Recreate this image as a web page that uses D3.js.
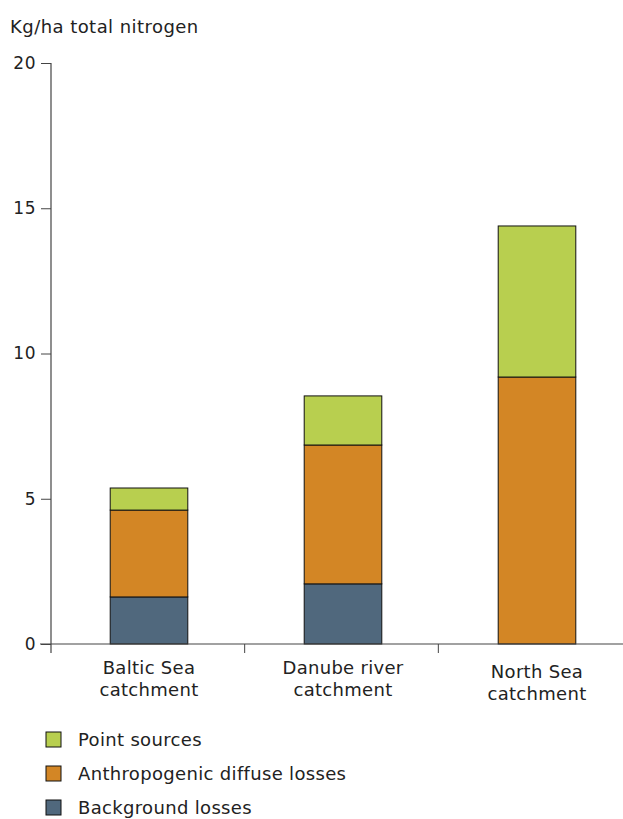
<!DOCTYPE html>
<html><head><meta charset="utf-8">
<script src="https://cdn.jsdelivr.net/npm/d3@7"></script>
<style>body{margin:0;background:#fff;} text{font-family:"DejaVu Sans",Verdana,sans-serif;fill:#222;}</style>
</head><body>
<svg id="c" width="623" height="819"></svg>
<script>
const categories = [["Baltic Sea","catchment"],["Danube river","catchment"],["North Sea","catchment"]];
const catKeys = ["Baltic Sea catchment","Danube river catchment","North Sea catchment"];
const seriesNames = ["Background losses","Anthropogenic diffuse losses","Point sources"];
const background = [1.62, 2.07, 0];
const anthropogenic = [2.99, 4.78, 9.19];
const pointSources = [0.76, 1.69, 5.2];
const yTicks = [0,5,10,15,20];
const colors = ["#50687d","#d38625","#b8cf4f"];

const svg = d3.select("#c");
const x0 = 51, x1 = 632, yTop = 63, yBot = 644;
const x = d3.scaleBand().domain(catKeys).range([x0+1,x1+2]).paddingInner(0.6).paddingOuter(0.3);
const y = d3.scaleLinear().domain([0,20]).range([yBot,yTop]);

const rows = catKeys.map((k,i)=>({key:k, "Background losses":background[i], "Anthropogenic diffuse losses":anthropogenic[i], "Point sources":pointSources[i]}));
const stack = d3.stack().keys(seriesNames)(rows);

svg.append("g").selectAll("g").data(stack).join("g")
  .attr("fill",(d,i)=>colors[i])
  .selectAll("rect").data(d=>d.filter(p=>p[1]-p[0]>0)).join("rect")
  .attr("x",d=>x(d.data.key)).attr("width",x.bandwidth())
  .attr("y",d=>y(d[1])).attr("height",d=>y(d[0])-y(d[1]))
  .attr("stroke","#111").attr("stroke-width",1);

// y axis
const ya = svg.append("g").attr("transform",`translate(${x0},0)`)
  .call(d3.axisLeft(y).tickValues(yTicks).tickSize(10).tickPadding(5).tickSizeOuter(0));
ya.select(".domain").remove();
ya.selectAll("line").attr("stroke","#444");
ya.selectAll("text").style("font-size","17px").style("letter-spacing","0.5px").attr("fill","#222");
svg.append("line").attr("x1",x0).attr("x2",x0).attr("y1",yTop).attr("y2",yBot+9).attr("stroke","#444").attr("stroke-width",1.2);

// x axis
const xb = d3.scaleOrdinal().domain([0,1,2,3]).range([x0,x0+(x1-x0)/3,x0+2*(x1-x0)/3,x1]);
svg.append("line").attr("x1",40).attr("x2",623).attr("y1",yBot).attr("y2",yBot).attr("stroke","#444").attr("stroke-width",1.2);
svg.append("g").selectAll("line").data([1,2]).join("line")
  .attr("x1",d=>xb(d)).attr("x2",d=>xb(d)).attr("y1",yBot).attr("y2",yBot+9).attr("stroke","#444");

const labY = [674,674,678];
svg.append("g").selectAll("text").data(categories).join("text")
  .attr("x",(d,i)=>x(catKeys[i])+x.bandwidth()/2).attr("y",(d,i)=>labY[i])
  .attr("text-anchor","middle").style("font-size","18px").style("letter-spacing","0.3px")
  .each(function(d){
    const t=d3.select(this);
    d.forEach((s,j)=>t.append("tspan").attr("x",t.attr("x")).attr("dy",j?22:0).text(s));
  });

svg.append("text").attr("x",10).attr("y",33).style("font-size","18px").style("letter-spacing","0.45px").text("Kg/ha total nitrogen");

// legend
const legend = [["Point sources",colors[2]],["Anthropogenic diffuse losses",colors[1]],["Background losses",colors[0]]];
const lg = svg.append("g").selectAll("g").data(legend).join("g")
  .attr("transform",(d,i)=>`translate(46,${732+i*34})`);
lg.append("rect").attr("width",15).attr("height",15).attr("fill",d=>d[1]).attr("stroke","#111");
lg.append("text").attr("x",32).attr("y",14).style("font-size","18px").style("letter-spacing","0.33px").text(d=>d[0]);
</script>
</body></html>
